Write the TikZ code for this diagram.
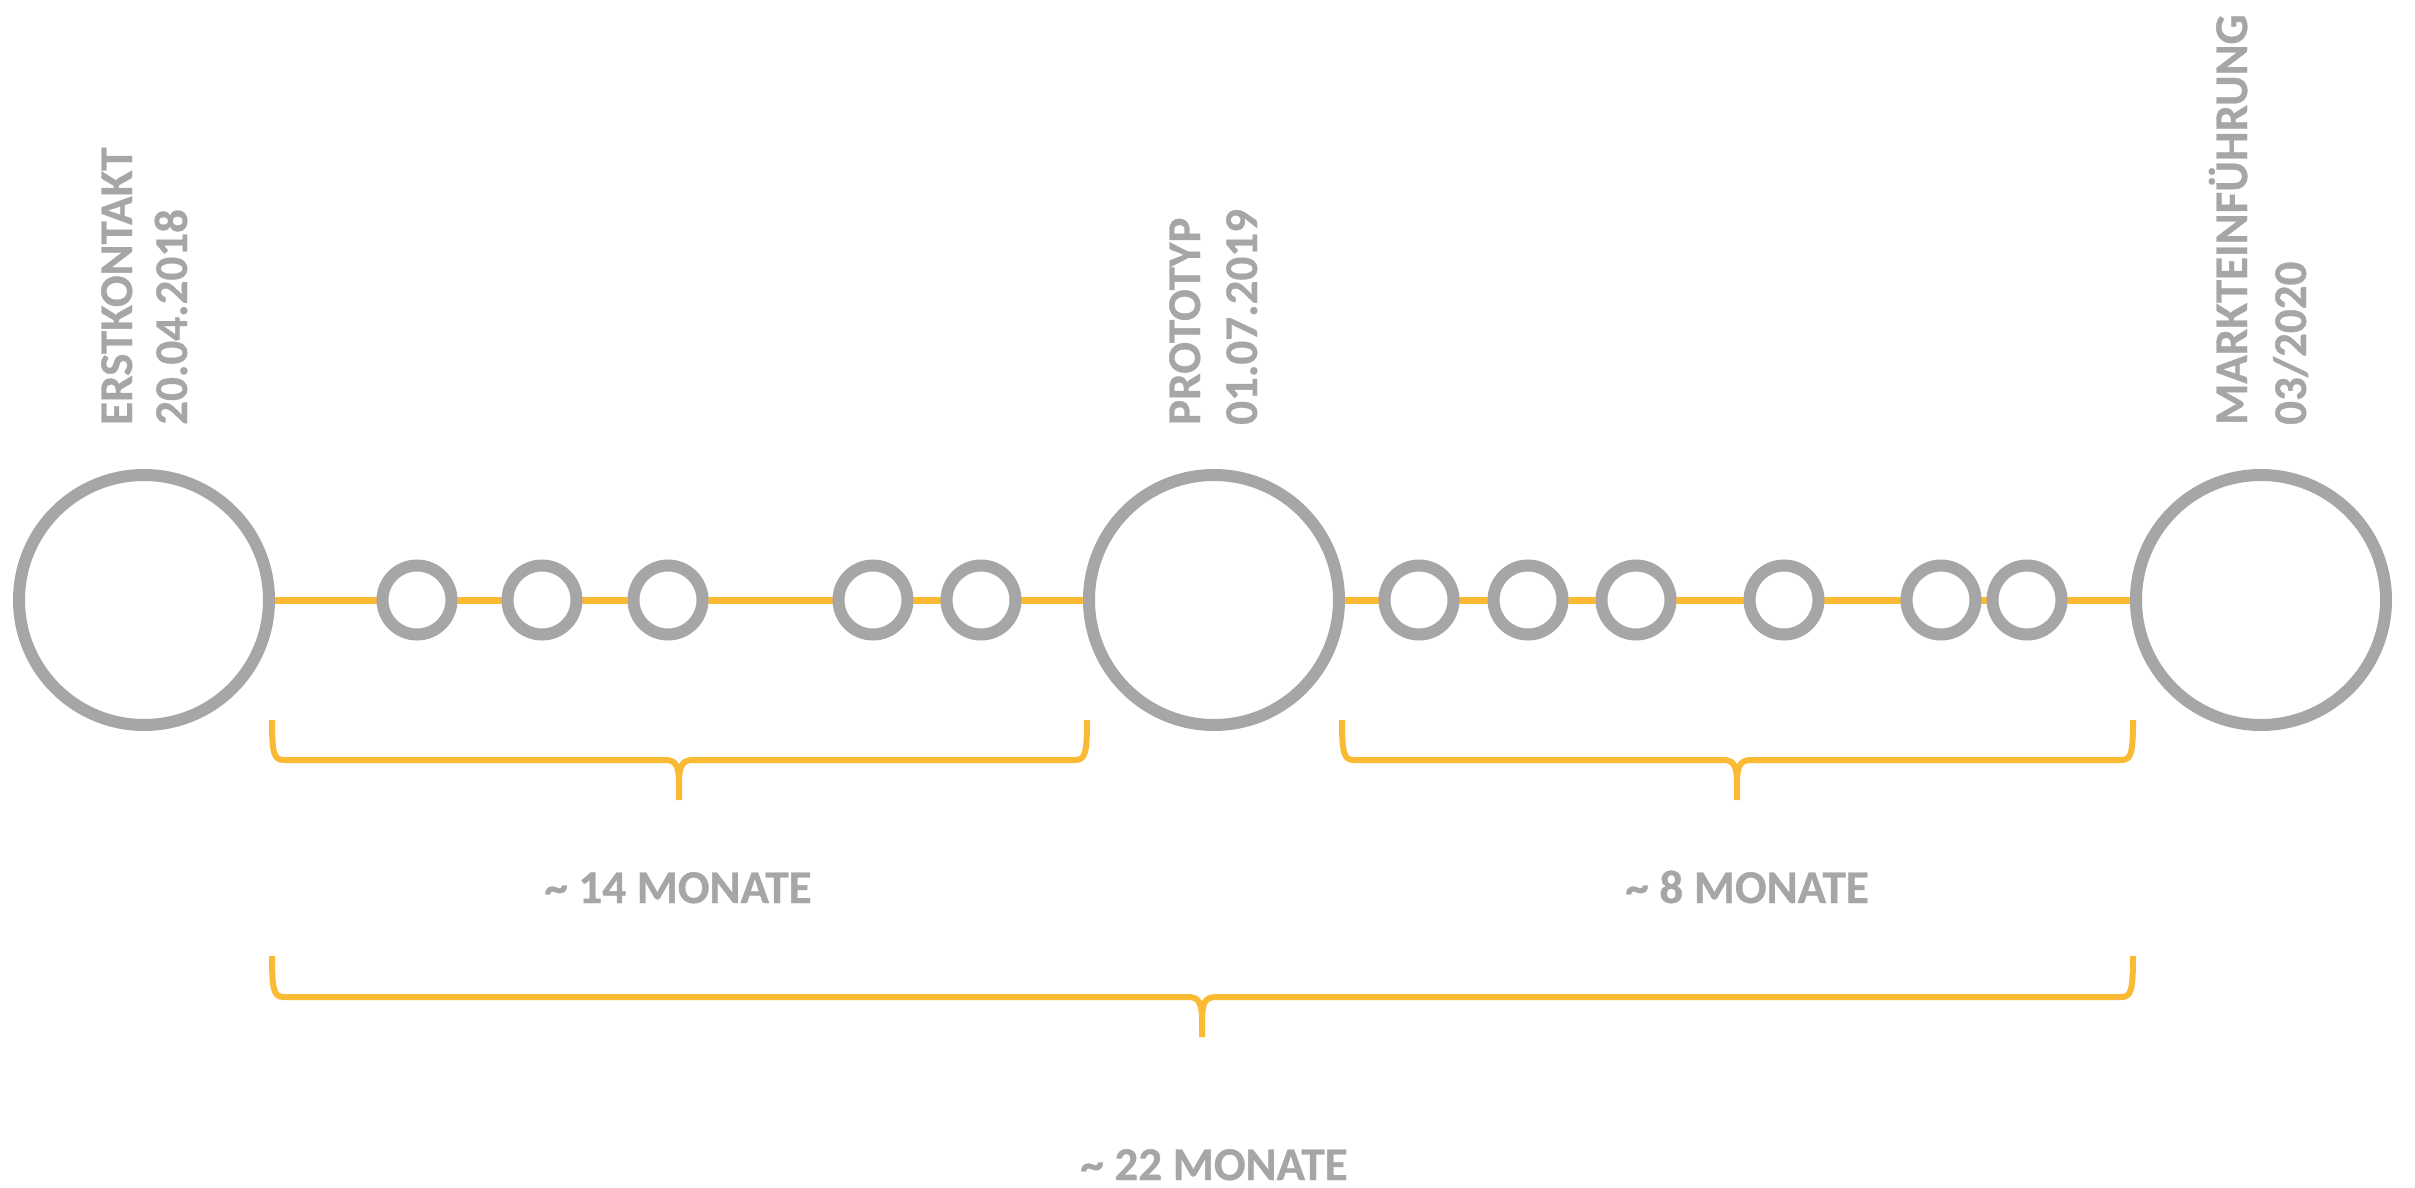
\documentclass[tikz,border=0pt]{standalone}
\usepackage{fontspec}
\setmainfont{Carlito}
\newfontfamily\capfont{Carlito}[BoldFeatures={FakeBold=0.7}]
\usetikzlibrary{backgrounds}
\definecolor{ring}{HTML}{A6A6A6}
\definecolor{amber}{HTML}{FBBA33}

% curly span bracket: left x, tip x, right x, top y, line y, bottom y
\newcommand\spanbracket[6]{%
  \draw[bracket] (#1,#4) .. controls (#1,#5-6) and (#1+2,#5) .. (#1+12,#5)
    -- (#2-14,#5) .. controls (#2-3,#5) and (#2,#5+6) .. (#2,#5+24) -- (#2,#6)
    (#2,#5+24) .. controls (#2,#5+6) and (#2+3,#5) .. (#2+14,#5)
    -- (#3-12,#5) .. controls (#3-2,#5) and (#3,#5-6) .. (#3,#4);}

\begin{document}
\begin{tikzpicture}[x=1pt,y=-1pt,
  milestone/.style={circle,draw=ring,line width=12pt,fill=white,minimum size=250pt,inner sep=0pt},
  substep/.style={circle,draw=ring,line width=12pt,fill=white,minimum size=69pt,inner sep=0pt},
  track/.style={draw=amber,line width=7pt},
  bracket/.style={draw=amber,line width=6pt,line cap=butt,line join=round},
  vlabel/.style={rotate=90,anchor=base west,inner sep=0pt,text=ring,
    font=\capfont\bfseries\fontsize{47}{56}\selectfont},
  spanlabel/.style={anchor=base,inner sep=0pt,text=ring,
    font=\capfont\bfseries\fontsize{47}{56}\selectfont}]

\useasboundingbox (0,0) rectangle (2415,1188);

% milestones
\node[milestone] (m1) at (144,600) {};
\node[milestone] (m2) at (1214,600) {};
\node[milestone] (m3) at (2261,600) {};

% intermediate steps
\node[substep] (s1) at (417,600) {};
\node[substep] (s2) at (542,600) {};
\node[substep] (s3) at (668,600) {};
\node[substep] (s4) at (873,600) {};
\node[substep] (s5) at (981,600) {};
\node[substep] (s6) at (1419,600) {};
\node[substep] (s7) at (1528,600) {};
\node[substep] (s8) at (1636,600) {};
\node[substep] (s9) at (1784,600) {};
\node[substep] (s10) at (1941,600) {};
\node[substep] (s11) at (2027,600) {};

% timeline track behind the circles
\begin{scope}[on background layer]
  \draw[track] (m1) -- (m2);
  \draw[track] (m2) -- (m3);
\end{scope}

% milestone captions
\node[vlabel] (t1a) at (132,425) {ERSTKONTAKT};
\node[vlabel] (t1b) at (187,425) {20.04.2018};
\node[vlabel] (t2a) at (1200,425) {PROTOTYP};
\node[vlabel] (t2b) at (1257,425) {01.07.2019};
\node[vlabel] (t3a) at (2247,425) {MARKTEINFÜHRUNG};
\node[vlabel] (t3b) at (2306,425) {03/2020};

% duration brackets
\spanbracket{272}{679}{1087}{720}{760}{800}
\spanbracket{1342}{1737}{2133}{720}{760}{800}
\spanbracket{272}{1202}{2133}{956}{997}{1037}

% duration captions
\node[spanlabel] (d1) at (678,903) {\textasciitilde\ 14 MONATE};
\node[spanlabel] (d2) at (1747,903) {\textasciitilde\ 8 MONATE};
\node[spanlabel] (d3) at (1214,1180) {\textasciitilde\ 22 MONATE};
\end{tikzpicture}
\end{document}
